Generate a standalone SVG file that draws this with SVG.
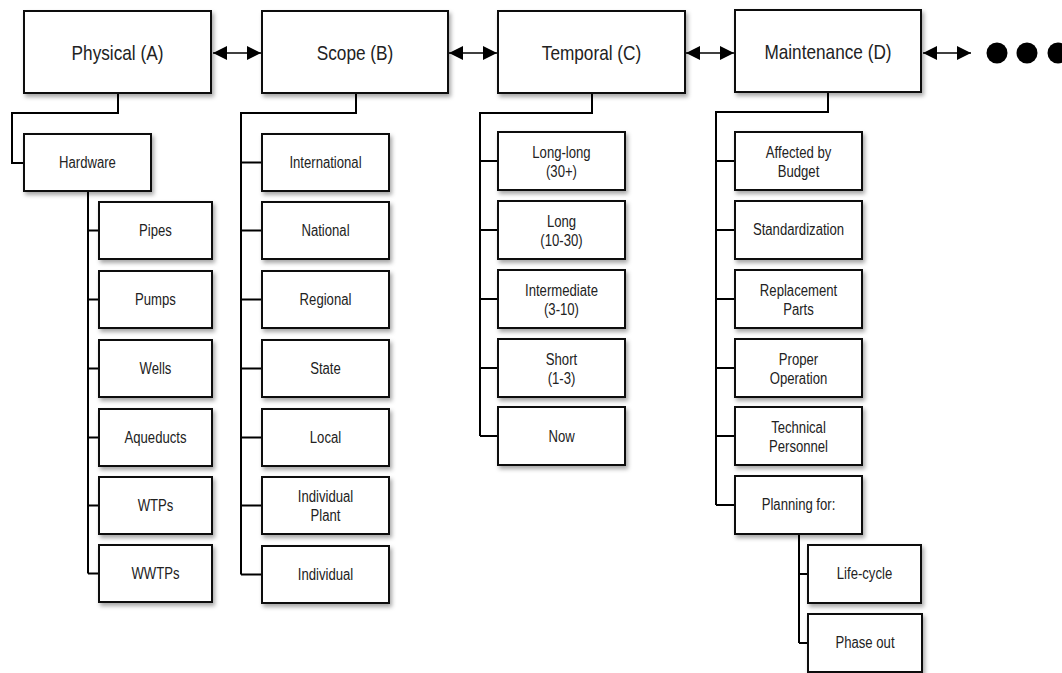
<svg xmlns="http://www.w3.org/2000/svg" width="1062" height="673" viewBox="0 0 1062 673">
<defs>
<filter id="sh" x="-10%" y="-10%" width="130%" height="140%">
<feDropShadow dx="2" dy="3" stdDeviation="2" flood-color="#000" flood-opacity="0.35"/>
</filter>
<marker id="ah" viewBox="0 0 10 10" refX="10" refY="5" markerUnits="userSpaceOnUse" markerWidth="15" markerHeight="14" orient="auto-start-reverse">
<path d="M0,0 L10,5 L0,10 z" fill="#000"/>
</marker>
<style>
.box{fill:#fff;stroke:#111;stroke-width:2;filter:url(#sh)}
.t{font-family:"Liberation Sans Narrow","Liberation Sans",Arial,sans-serif;fill:#222;text-anchor:middle;transform-box:fill-box;transform-origin:50% 50%;transform:scaleX(0.82)}
.big{font-size:21px}
.sm{font-size:16px}
.c{fill:none;stroke:#000;stroke-width:2}
.a{fill:none;stroke:#000;stroke-width:1.5;marker-start:url(#ah);marker-end:url(#ah)}
</style>
</defs>
<rect width="1062" height="673" fill="#fff"/>
<g id="connectors">
<path class="c" d="M118,93 V113 H12 V163 H24"/>
<path class="c" d="M88,191 V573.5 M88,230.5 H99 M88,299.5 H99 M88,368.5 H99 M88,437.5 H99 M88,505.5 H99 M88,573.5 H99"/>
<path class="c" d="M356,93 V113 H241 V574.5 M241,162.5 H262 M241,230.5 H262 M241,299.5 H262 M241,368.5 H262 M241,437.5 H262 M241,505.5 H262 M241,574.5 H262"/>
<path class="c" d="M592,93 V113 H480 V436 M480,161 H498 M480,230 H498 M480,299 H498 M480,368 H498 M480,436 H498"/>
<path class="c" d="M828,92 V112 H716 V505 M716,161 H735 M716,230 H735 M716,299 H735 M716,368 H735 M716,436 H735 M716,505 H735"/>
<path class="c" d="M799,534 V643 M799,574 H808 M799,643 H808"/>
<line class="a" x1="213" y1="53" x2="261" y2="53"/>
<line class="a" x1="449" y1="53" x2="497" y2="53"/>
<line class="a" x1="686" y1="53" x2="734" y2="53"/>
<line class="a" x1="923" y1="53" x2="971" y2="53"/>
</g>
<g id="ellipsis">
<circle cx="997" cy="53" r="10.5" fill="#000"/>
<circle cx="1027" cy="53" r="10.5" fill="#000"/>
<circle cx="1058" cy="53" r="10.5" fill="#000"/>
</g>
<g id="physical"><rect class="box" x="24" y="11" width="187" height="82"/><text class="t big" x="117.5" y="60">Physical (A)</text></g>
<g id="scope"><rect class="box" x="262" y="11" width="186" height="82"/><text class="t big" x="355" y="60">Scope (B)</text></g>
<g id="temporal"><rect class="box" x="498" y="11" width="187" height="82"/><text class="t big" x="591.5" y="60">Temporal (C)</text></g>
<g id="maintenance"><rect class="box" x="735" y="10" width="186" height="82"/><text class="t big" x="828" y="59">Maintenance (D)</text></g>

<g id="hardware"><rect class="box" x="24" y="134" width="127" height="57"/><text class="t sm" x="87.5" y="168">Hardware</text></g>
<g id="pipes"><rect class="box" x="99" y="202" width="113" height="57"/><text class="t sm" x="155.5" y="236">Pipes</text></g>
<g id="pumps"><rect class="box" x="99" y="271" width="113" height="57"/><text class="t sm" x="155.5" y="305">Pumps</text></g>
<g id="wells"><rect class="box" x="99" y="340" width="113" height="57"/><text class="t sm" x="155.5" y="374">Wells</text></g>
<g id="aqueducts"><rect class="box" x="99" y="409" width="113" height="57"/><text class="t sm" x="155.5" y="443">Aqueducts</text></g>
<g id="wtps"><rect class="box" x="99" y="477" width="113" height="57"/><text class="t sm" x="155.5" y="511">WTPs</text></g>
<g id="wwtps"><rect class="box" x="99" y="545" width="113" height="57"/><text class="t sm" x="155.5" y="579">WWTPs</text></g>

<g id="international"><rect class="box" x="262" y="134" width="127" height="57"/><text class="t sm" x="325.5" y="168">International</text></g>
<g id="national"><rect class="box" x="262" y="202" width="127" height="57"/><text class="t sm" x="325.5" y="236">National</text></g>
<g id="regional"><rect class="box" x="262" y="271" width="127" height="57"/><text class="t sm" x="325.5" y="305">Regional</text></g>
<g id="state"><rect class="box" x="262" y="340" width="127" height="57"/><text class="t sm" x="325.5" y="374">State</text></g>
<g id="local"><rect class="box" x="262" y="409" width="127" height="57"/><text class="t sm" x="325.5" y="443">Local</text></g>
<g id="individual-plant"><rect class="box" x="262" y="477" width="127" height="57"/><text class="t sm" x="325.5" y="502">Individual</text><text class="t sm" x="325.5" y="521">Plant</text></g>
<g id="individual"><rect class="box" x="262" y="546" width="127" height="57"/><text class="t sm" x="325.5" y="580">Individual</text></g>

<g id="long-long"><rect class="box" x="498" y="132" width="127" height="58"/><text class="t sm" x="561.5" y="158">Long-long</text><text class="t sm" x="561.5" y="177">(30+)</text></g>
<g id="long"><rect class="box" x="498" y="201" width="127" height="58"/><text class="t sm" x="561.5" y="227">Long</text><text class="t sm" x="561.5" y="246">(10-30)</text></g>
<g id="intermediate"><rect class="box" x="498" y="270" width="127" height="58"/><text class="t sm" x="561.5" y="296">Intermediate</text><text class="t sm" x="561.5" y="315">(3-10)</text></g>
<g id="short"><rect class="box" x="498" y="339" width="127" height="58"/><text class="t sm" x="561.5" y="365">Short</text><text class="t sm" x="561.5" y="384">(1-3)</text></g>
<g id="now"><rect class="box" x="498" y="407" width="127" height="58"/><text class="t sm" x="561.5" y="442">Now</text></g>

<g id="affected-by-budget"><rect class="box" x="735" y="132" width="127" height="58"/><text class="t sm" x="798.5" y="158">Affected by</text><text class="t sm" x="798.5" y="177">Budget</text></g>
<g id="standardization"><rect class="box" x="735" y="201" width="127" height="58"/><text class="t sm" x="798.5" y="235">Standardization</text></g>
<g id="replacement-parts"><rect class="box" x="735" y="270" width="127" height="58"/><text class="t sm" x="798.5" y="296">Replacement</text><text class="t sm" x="798.5" y="315">Parts</text></g>
<g id="proper-operation"><rect class="box" x="735" y="339" width="127" height="58"/><text class="t sm" x="798.5" y="365">Proper</text><text class="t sm" x="798.5" y="384">Operation</text></g>
<g id="technical-personnel"><rect class="box" x="735" y="407" width="127" height="58"/><text class="t sm" x="798.5" y="433">Technical</text><text class="t sm" x="798.5" y="452">Personnel</text></g>
<g id="planning-for"><rect class="box" x="735" y="476" width="127" height="58"/><text class="t sm" x="798.5" y="510">Planning for:</text></g>

<g id="life-cycle"><rect class="box" x="808" y="545" width="113" height="58"/><text class="t sm" x="864.5" y="579">Life-cycle</text></g>
<g id="phase-out"><rect class="box" x="808" y="614" width="114" height="58"/><text class="t sm" x="865" y="648">Phase out</text></g>
</svg>
